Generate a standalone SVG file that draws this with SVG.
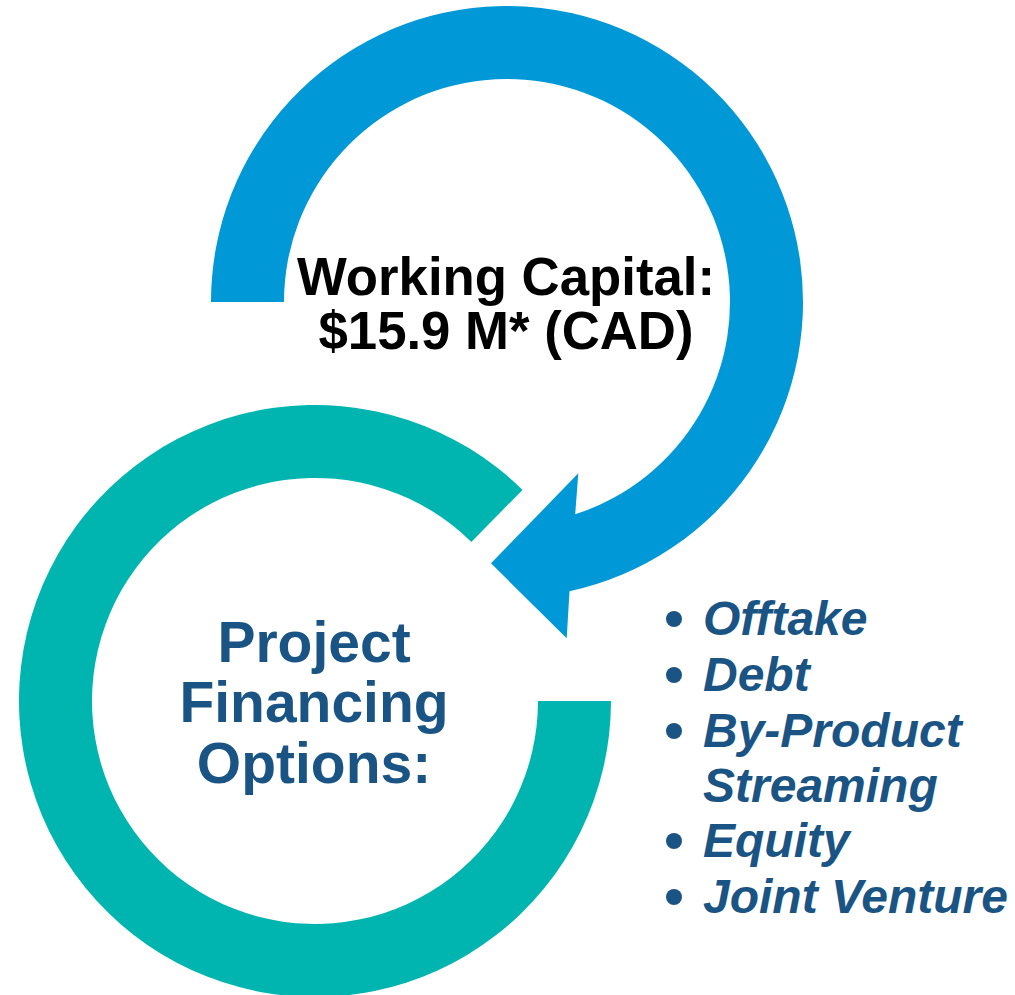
<svg xmlns="http://www.w3.org/2000/svg" width="1015" height="995" viewBox="0 0 1015 995">
<style>
.title{font-family:"Liberation Sans",Arial,sans-serif;font-weight:bold;font-size:54px;fill:#000;text-anchor:middle}
.pf{font-family:"Liberation Sans",Arial,sans-serif;font-weight:bold;font-size:57px;fill:#1A5484;text-anchor:middle}
.item{font-family:"Liberation Sans",Arial,sans-serif;font-weight:bold;font-style:italic;font-size:48px;fill:#1A5484}
.dot{fill:#1A5484}
</style>
<rect width="1015" height="995" fill="#fff"/>
<g id="project-financing">
<path fill="#00B5B0" d="M611,701 A296,296 0 1 1 522.5,489.9 L471.3,541.9 A223,223 0 1 0 538,701 Z"/>
<text class="pf" x="314" y="662">Project</text>
<text class="pf" x="314" y="722">Financing</text>
<text class="pf" x="314" y="783">Options:</text>
</g>
<g id="connectors">
<path fill="#0098D6" d="M211,302 A296,296 0 1 1 569.5,591.3 L566.7,638.3 L491,563.3 L578.3,473.3 L575.2,514.3 A223,223 0 1 0 284,302 Z"/>
</g>
<g id="working-capital">
<text class="title" x="506" y="295" textLength="418" lengthAdjust="spacingAndGlyphs">Working Capital:</text>
<text class="title" x="506" y="349" textLength="375" lengthAdjust="spacingAndGlyphs">$15.9 M* (CAD)</text>
</g>
<g id="options-list">
<circle class="dot" cx="674" cy="619" r="8"/>
<text class="item" x="703" y="635">Offtake</text>
<circle class="dot" cx="674" cy="675" r="8"/>
<text class="item" x="703" y="691">Debt</text>
<circle class="dot" cx="674" cy="731" r="8"/>
<text class="item" x="703" y="747">By-Product</text>
<text class="item" x="703" y="802">Streaming</text>
<circle class="dot" cx="674" cy="841" r="8"/>
<text class="item" x="703" y="857">Equity</text>
<circle class="dot" cx="674" cy="897" r="8"/>
<text class="item" x="703" y="913">Joint Venture</text>
</g>
</svg>
